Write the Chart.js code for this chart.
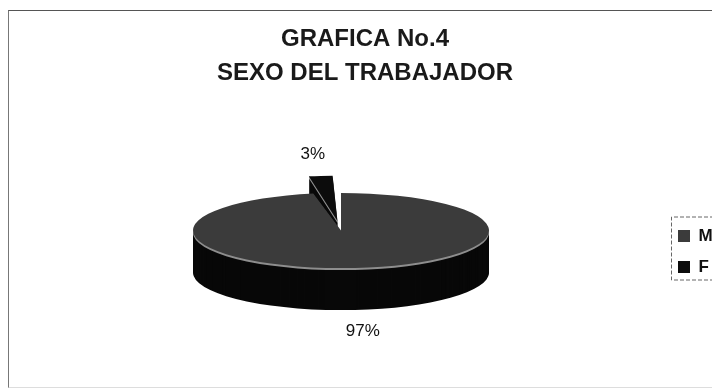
<!DOCTYPE html>
<html>
<head>
<meta charset="utf-8">
<script src="https://cdn.jsdelivr.net/npm/chart.js@4"></script>
<style>
    body { margin:0; background:#fff; overflow:hidden; }
    #frame {
        position:absolute; left:8px; top:10px; width:720px; height:376px;
        border-top:1px solid #555; border-left:1px solid #777; border-bottom:1px solid #ddd;
    }
    #chart { display:block; }
</style>
</head>
<body>
<div id="frame"><canvas id="chart" width="712" height="376"></canvas></div>
<script>
const categories = ['M', 'F'];
const percentages = [97, 3];
const titleLines = ['GRAFICA No.4', 'SEXO DEL TRABAJADOR'];

const FONT = '"Liberation Sans", Arial, sans-serif';
const topColors = ['#3b3b3b', '#0c0c0c'];
const sideColor = '#080808';
const rimColor = '#8e8e8e';
const TILT = 0.254;
const DEPTH = 42;

function withOptions(arc, extra, fn) {
    const saved = arc.options;
    arc.options = Object.assign({}, saved, extra);
    fn();
    arc.options = saved;
}

// same shift the arc element applies when it draws an exploded slice
function explodeShift(arc) {
    const offset = (arc.options.offset || 0) / 4;
    const fix = 1 - Math.sin(Math.min(Math.PI, arc.circumference || 0));
    return offset * (1 + fix);
}

// draws the pie as a tilted disc with a side wall, then the labels
const pie3d = {
    id:'pie3d',
    beforeDatasetsDraw(chart) {
        const ctx = chart.ctx;
        const arcs = chart.getDatasetMeta(0).data;
        const cx = arcs[0].x, cy = arcs[0].y;

        for (let d = DEPTH; d >= 1; d--) {
            ctx.save();
            ctx.translate(cx, cy - DEPTH / 2 + d);
            ctx.scale(1, TILT);
            ctx.translate(-cx, -cy);
            arcs.forEach(arc => {
                const color = d <= 2 ? rimColor : sideColor;
                withOptions(arc, { backgroundColor:color, borderWidth:0 }, () => arc.draw(ctx));
            });
            ctx.restore();
        }

        ctx.save();
        ctx.translate(cx, cy - DEPTH / 2);
        ctx.scale(1, TILT);
        ctx.translate(-cx, -cy);
    },
    afterDatasetsDraw(chart) {
        const ctx = chart.ctx;
        ctx.restore();

        const arcs = chart.getDatasetMeta(0).data;
        const values = chart.data.datasets[0].data;
        const total = values.reduce((a, b) => a + b, 0);

        ctx.save();
        ctx.font = `17px ${FONT}`;
        ctx.fillStyle = '#111';
        ctx.textAlign = 'center';
        ctx.textBaseline = 'middle';
        arcs.forEach((arc, i) => {
            const mid = (arc.startAngle + arc.endAngle) / 2;
            const dist = arc.outerRadius + 84 + explodeShift(arc);
            const faceY = arc.y - DEPTH / 2;
            const sin = Math.sin(mid);
            const x = arc.x + Math.cos(mid) * dist;
            const y = faceY + sin * dist * TILT + (sin > 0 ? DEPTH : 0);
            ctx.fillText(`${Math.round(values[i] / total * 100)}%`, x, y);
        });
        ctx.restore();
    },
    afterDraw(chart) {
        const boxes = chart.legend.legendHitBoxes;
        if (!boxes || !boxes.length) return;
        const ctx = chart.ctx;
        const first = boxes[0];
        const last = boxes[boxes.length - 1];
        const left = first.left - 7;
        const top = first.top - 11;
        const bottom = last.top + last.height + 4;

        ctx.save();
        ctx.strokeStyle = '#666';
        ctx.lineWidth = 1;
        ctx.setLineDash([4, 2]);
        ctx.beginPath();
        ctx.moveTo(chart.width + 5, top + 0.5);
        ctx.lineTo(left + 0.5, top + 0.5);
        ctx.lineTo(left + 0.5, bottom + 0.5);
        ctx.lineTo(chart.width + 5, bottom + 0.5);
        ctx.stroke();
        ctx.restore();
    }
};

new Chart(document.getElementById('chart'), {
    type:'pie',
    data:{
        labels:categories,
        datasets:[{
            data:percentages,
            backgroundColor:topColors,
            borderWidth:0,
            offset:[0, 150],
            radius:148,
            clip:false
        }]
    },
    options:{
        responsive:false,
        animation:false,
        events:[],
        devicePixelRatio:1,
        layout:{ padding:{ left:9, right:9, top:0, bottom:0 } },
        plugins:{
            title:{
                display:true,
                text:titleLines,
                color:'#1a1a1a',
                font:{ family:FONT, size:24, weight:'bold', lineHeight:1.396 },
                padding:{ top:12, bottom:26 }
            },
            legend:{
                position:'right',
                fullSize:false,
                maxWidth:48,
                labels:{
                    boxWidth:12,
                    boxHeight:12,
                    padding:14,
                    color:'#111',
                    font:{ family:FONT, size:17, weight:'bold' }
                }
            },
            tooltip:{ enabled:false }
        }
    },
    plugins:[pie3d]
});
</script>
</body>
</html>
